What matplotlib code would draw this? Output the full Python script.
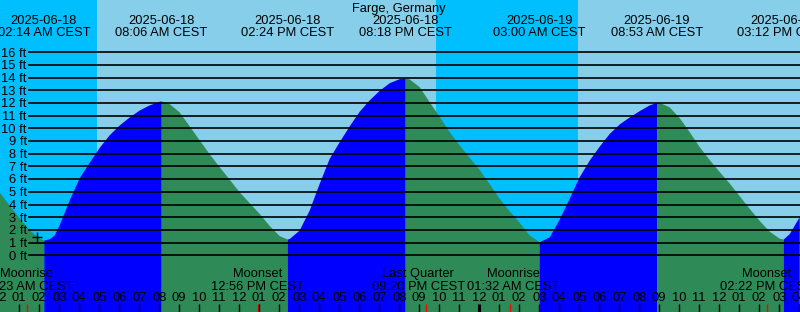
import matplotlib.pyplot as plt
import matplotlib.transforms as mtransforms

# hours since 2025-06-18 00:00 CEST, tide height in ft
hours = [0, 0.5, 1, 1.5, 2, 2.233, 2.5, 2.75, 3, 3.5, 4, 4.5, 5, 5.5, 6, 6.5, 7, 7.5, 8, 8.1,
         8.5, 9, 9.5, 10, 10.5, 11, 11.5, 12, 12.5, 13, 13.5, 14, 14.4, 14.5, 15, 15.5,
         16, 16.5, 17, 17.5, 18, 18.5, 19, 19.5, 20, 20.3, 20.5, 21, 21.5, 22, 22.5, 23,
         23.5, 24, 24.5, 25, 25.5, 26, 26.5, 27, 27.5, 28, 28.5, 29, 29.5, 30, 30.5, 31,
         31.5, 32, 32.5, 32.883, 33, 33.5, 34, 34.5, 35, 35.5, 36, 36.5, 37, 37.5, 38,
         38.5, 39, 39.2, 39.5, 40]
heights = [5.0, 3.95, 2.95, 2.0, 1.35, 1.2, 1.3, 1.6, 2.4, 4.36, 6.1, 7.33, 8.5, 9.5, 10.27,
           10.9, 11.45, 11.85, 12.14, 12.16, 11.95, 11.3, 10.2, 9.09, 8.0, 6.98, 6.0, 5.0,
           4.15, 3.3, 2.35, 1.55, 1.28, 1.32, 1.99, 3.57, 5.67, 7.64, 8.95, 10.2, 11.35,
           12.25, 13.0, 13.6, 13.92, 13.97, 13.9, 13.29, 12.1, 10.95, 9.74, 8.7, 7.72,
           6.76, 5.65, 4.49, 3.5, 2.6, 1.6, 1.07, 1.45, 2.85, 4.5, 6.19, 7.5, 8.6, 9.6,
           10.35, 10.9, 11.4, 11.85, 12.06, 12.05, 11.7, 10.85, 9.75, 8.56, 7.55, 6.6,
           5.7, 4.7, 3.7, 2.75, 1.9, 1.35, 1.28, 1.7, 3.04]

# high / low tide events
ext_times = [2.233, 8.1, 14.4, 20.3, 27.0, 32.883, 39.2]
ext_dates = ['2025-06-18', '2025-06-18', '2025-06-18', '2025-06-18',
             '2025-06-19', '2025-06-19', '2025-06-19']
ext_labels = ['02:14 AM CEST', '08:06 AM CEST', '02:24 PM CEST', '08:18 PM CEST',
              '03:00 AM CEST', '08:53 AM CEST', '03:12 PM CEST']

# moon events
moon_times = [1.383, 12.933, 21.333, 25.533, 38.367]
moon_names = ['Moonrise', 'Moonset', 'Last Quarter', 'Moonrise', 'Moonset']
moon_labels = ['01:23 AM CEST', '12:56 PM CEST', '09:20 PM CEST',
               '01:32 AM CEST', '02:22 PM CEST']
# labels nudged apart where they would collide (hours)
moon_nudge = [0, 0, -0.38, 0.19, 0]

# sun: night spans (sunset -> sunrise)
night_start = [0, 21.833]
night_end = [4.883, 28.917]

now_time = 1.883
now_height = 1.45

ft_levels = list(range(0, 17))

# 1. Figure covering the whole canvas
fig = plt.figure(figsize=(8, 3.12), dpi=100)
ax = fig.add_axes([0, 0, 1, 1])
ax.set_xlim(0.04, 40.04)
ax.set_ylim(-4.47, 20.12)
ax.axis('off')
ax.axvspan(0, 41, color='#87CEEB', zorder=0)
for s, e in zip(night_start, night_end):
    ax.axvspan(s, e, color='#00BFFF', lw=0, zorder=0)

# 2. Tide fill: blue while rising, green while falling
bounds = [hours[0]] + ext_times + [hours[-1]]
for a, b in zip(bounds[:-1], bounds[1:]):
    i0 = hours.index(a)
    i1 = hours.index(b)
    xs = hours[i0:i1 + 1]
    ys = heights[i0:i1 + 1]
    col = '#0000FF' if ys[-1] > ys[0] else '#2E8B57'
    ax.fill_between(xs, ys, -10, color=col, lw=0, zorder=1)

# 3. Depth lines and labels
font = 'Liberation Sans'
fs = 9.3
lab_tr = mtransforms.offset_copy(ax.transData, fig=fig, y=-4.3, units='dots')
for lv in ft_levels:
    ax.axhline(lv, xmin=29 / 800, xmax=1, color='black', lw=1.2, zorder=3)
    ax.text(1.375, lv, f'{lv} ft', transform=lab_tr, ha='right', va='baseline',
            fontsize=fs, family=font, zorder=4)

ax.plot(now_time, now_height, marker='+', color='black', ms=7, mew=1, zorder=4)

# 4. Text at top
tr = ax.get_xaxis_transform()
def ypos(px):
    return 1 - px / 312

ax.text(20, ypos(12), 'Farge, Germany', transform=tr, ha='center', va='baseline',
        fontsize=fs, family=font)
for t, d, l in zip(ext_times, ext_dates, ext_labels):
    ax.text(t, ypos(24), d, transform=tr, ha='center', va='baseline', fontsize=fs, family=font)
    ax.text(t, ypos(36), l, transform=tr, ha='center', va='baseline', fontsize=fs, family=font)

# 5. Moon events at bottom
for t, n, l, dn in zip(moon_times, moon_names, moon_labels, moon_nudge):
    ax.text(t + dn, ypos(277), n, transform=tr, ha='center', va='baseline', fontsize=fs,
            family=font, zorder=5)
    ax.text(t + dn, ypos(290), l, transform=tr, ha='center', va='baseline', fontsize=fs,
            family=font, zorder=5)
    ax.vlines(t, 0, ypos(304), transform=tr, color='red', lw=1, zorder=5)

# 6. Hour axis
for h in range(0, 41):
    ax.text(h, ypos(301), f'{(h % 12) or 12:02d}', transform=tr, ha='center',
            va='baseline', fontsize=fs, family=font, zorder=5)
    if h > 0:
        ax.vlines(h, 0, ypos(304), transform=tr, color='black',
                  lw=2.2 if h % 24 == 0 else 1, zorder=5)

fig.savefig('out.png', dpi=100)
